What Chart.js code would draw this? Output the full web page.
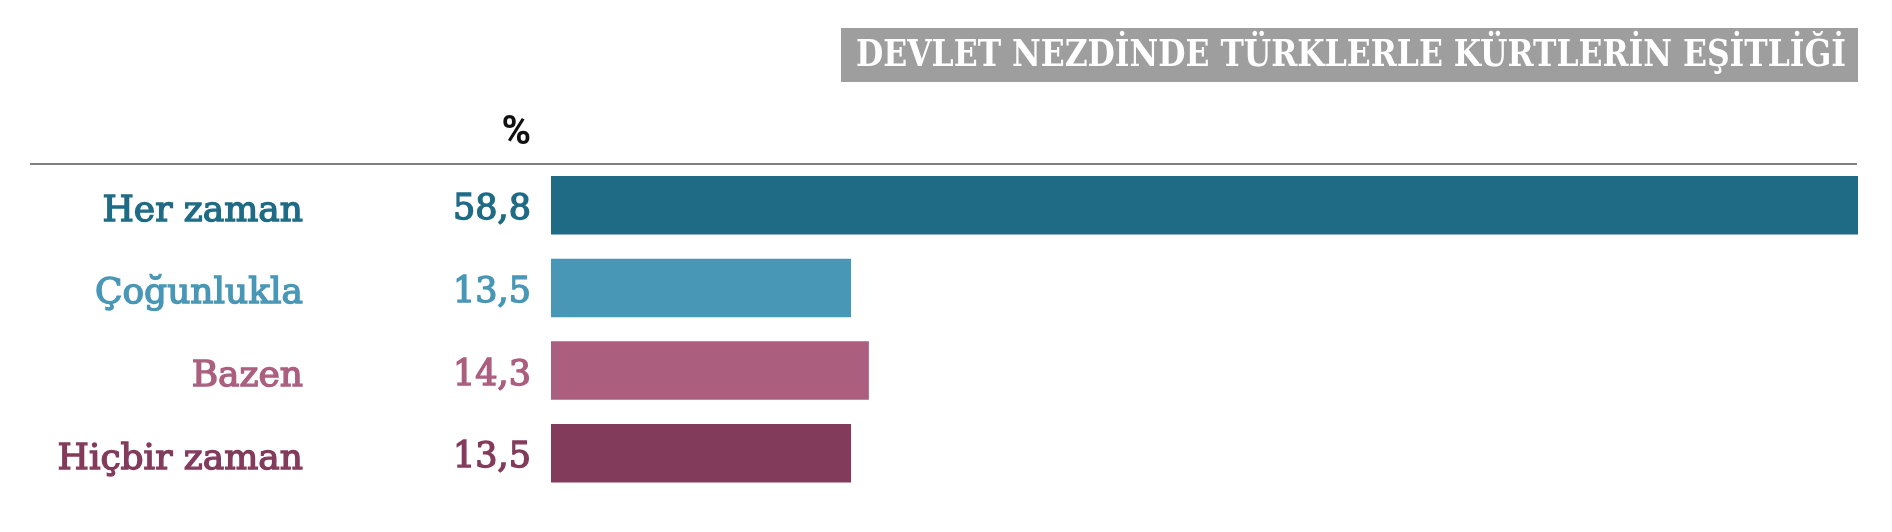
<!DOCTYPE html>
<html>
<head>
<meta charset="utf-8">
<script src="https://cdn.jsdelivr.net/npm/chart.js@4"></script>
<style>
  html, body { margin: 0; padding: 0; background: #fff; }
  #wrap { width: 1892px; height: 532px; }
</style>
</head>
<body>
<div id="wrap"><canvas id="chart" width="1892" height="532"></canvas></div>
<script>
const title = 'DEVLET NEZDİNDE TÜRKLERLE KÜRTLERİN EŞİTLİĞİ';
const unit = '%';
const categories = ['Her zaman', 'Çoğunlukla', 'Bazen', 'Hiçbir zaman'];
const values = [58.8, 13.5, 14.3, 13.5];
const colors = ['#1f6b86', '#4897b6', '#ab5e7e', '#833b5c'];

const slab = '"DejaVu Serif", "Liberation Serif", serif';

// title box, % sign and the rule under it
const decor = {
  id: 'decor',
  beforeDraw(chart) {
    const ctx = chart.ctx;
    const area = chart.chartArea;
    ctx.save();
    ctx.fillStyle = '#9e9e9e';
    ctx.fillRect(841, 28, area.right - 841, 54);
    ctx.font = 'bold 37px ' + slab;
    ctx.fillStyle = '#fff';
    ctx.textBaseline = 'middle';
    ctx.textAlign = 'left';
    const w = ctx.measureText(title).width;
    ctx.translate(856, 56);
    ctx.scale(990 / w, 1);
    ctx.fillText(title, 0, 0);
    ctx.restore();

    ctx.save();
    ctx.font = 'bold 40px Roboto, "Noto Sans", sans-serif';
    ctx.fillStyle = '#111';
    ctx.textAlign = 'right';
    ctx.textBaseline = 'middle';
    ctx.fillText(unit, 531, 134);
    ctx.strokeStyle = '#555';
    ctx.lineWidth = 1.5;
    ctx.beginPath();
    ctx.moveTo(30, area.top);
    ctx.lineTo(area.right - 1, area.top);
    ctx.stroke();
    ctx.restore();
  }
};

// value numbers left of each bar
const valueLabels = {
  id: 'valueLabels',
  afterDatasetsDraw(chart) {
    const ctx = chart.ctx;
    const meta = chart.getDatasetMeta(0);
    ctx.save();
    ctx.font = '35px ' + slab;
    ctx.textAlign = 'right';
    ctx.textBaseline = 'middle';
    ctx.lineWidth = 1.4;
    meta.data.forEach((bar, i) => {
      const txt = values[i].toFixed(1).replace('.', ',');
      ctx.fillStyle = colors[i];
      ctx.strokeStyle = colors[i];
      ctx.fillText(txt, 531, bar.y + 5);
      ctx.strokeText(txt, 531, bar.y + 5);
    });
    ctx.restore();
  }
};

new Chart(document.getElementById('chart'), {
  type: 'bar',
  data: {
    labels: categories,
    datasets: [{
      data: values,
      backgroundColor: colors,
      borderWidth: 0,
      barPercentage: 1,
      categoryPercentage: 0.708
    }]
  },
  options: {
    indexAxis: 'y',
    responsive: false,
    animation: false,
    layout: { padding: { top: 164, bottom: 37.5, right: 34, left: 0 } },
    plugins: {
      legend: { display: false },
      tooltip: { enabled: false }
    },
    scales: {
      x: { display: false, min: 0, max: 58.8 },
      y: {
        afterFit(scale) {
          scale.width = 551;
          scale.paddingTop = 0;
          scale.paddingBottom = 0;
        },
        grid: { display: false, drawTicks: false },
        border: { display: false },
        ticks: {
          padding: 248,
          labelOffset: 6,
          font: { family: slab, size: 36 },
          color: (c) => colors[c.index],
          textStrokeColor: (c) => colors[c.index],
          textStrokeWidth: 1.4
        }
      }
    }
  },
  plugins: [decor, valueLabels]
});
</script>
</body>
</html>
